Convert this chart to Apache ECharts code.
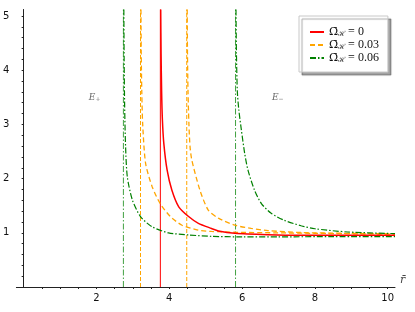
<!DOCTYPE html>
<html><head><meta charset="utf-8">
<script src="https://cdn.jsdelivr.net/npm/echarts@6/dist/echarts.min.js"></script>
<style>html,body{margin:0;padding:0;background:#fff}#c{width:415px;height:312px}</style>
</head><body><div id="c"></div>
<script>
// Tick values and labels
const xTickValues = [0.5,1,1.5,2,2.5,3,3.5,4,4.5,5,5.5,6,6.5,7,7.5,8,8.5,9,9.5,10];
const xLabelValues = [2,4,6,8,10];
const yTickValues = [0.2,0.4,0.6,0.8,1,1.2,1.4,1.6,1.8,2,2.2,2.4,2.6,2.8,3,3.2,3.4,3.6,3.8,4,4.2,4.4,4.6,4.8,5];
const yLabelValues = [1,2,3,4,5];

// Series names (legend)
const seriesNames = ['0', '0.03', '0.06'];

// Omega = 0 (red)
const redCurve = [[3.765,5.12],[3.775,4.3],[3.79,3.6],[3.81,3.1],[3.85,2.65],[3.94,2.16],[4.07,1.79],[4.26,1.48],[4.53,1.30],[4.80,1.175],[5.16,1.08],[5.35,1.035],[5.80,0.99],[6.71,0.965],[7.62,0.955],[8.9,0.955],[10.2,0.955]];
const redAsymptotes = [3.755];

// Omega = 0.03 (orange)
const orangeCurveA = [[3.222,5.12],[3.23,4.3],[3.245,3.6],[3.27,3.0],[3.35,2.28],[3.53,1.85],[3.75,1.54],[4.03,1.30],[4.35,1.14],[4.80,1.05],[5.16,1.025],[5.8,1.01],[6.9,1.0],[8.0,0.99],[10.2,0.975]];
const orangeCurveB = [[4.492,5.12],[4.50,4.3],[4.515,3.6],[4.54,3.0],[4.57,2.59],[4.62,2.34],[4.84,1.79],[5.07,1.42],[5.35,1.27],[5.80,1.14],[6.25,1.08],[6.71,1.04],[7.62,1.005],[8.9,0.99],[10.2,0.98]];
const orangeAsymptotes = [3.21, 4.48];

// Omega = 0.06 (green)
const greenCurveA = [[2.752,5.12],[2.76,4.2],[2.775,3.3],[2.80,2.59],[2.847,2.035],[2.984,1.61],[3.21,1.30],[3.53,1.11],[3.98,1.0],[4.53,0.96],[5.16,0.935],[6.0,0.925],[7.0,0.925],[8.5,0.93],[10.2,0.93]];
const greenCurveB = [[5.832,5.12],[5.845,4.3],[5.87,3.6],[5.91,3.27],[5.98,2.90],[6.07,2.47],[6.16,2.16],[6.34,1.79],[6.53,1.54],[6.80,1.36],[7.16,1.23],[7.62,1.13],[8.0,1.075],[8.9,1.015],[10.2,0.985]];
const greenAsymptotes = [2.74, 5.82];

// Region annotations
const annotations = [[1.95,3.5,'+'],[6.98,3.5,'−']];

const Y_TOP = 5.12;
const colors = ['#ff0000', '#ffa500', '#008000'];
const dashOrange = [5,3];
const dashGreen = [6,2,1.5,2];

function vline(xs) {
  const d = [];
  xs.forEach((x, i) => { if (i) d.push([null, null]); d.push([x, 0], [x, Y_TOP]); });
  return d;
}

const curveBase = {type:'line', showSymbol:false, symbol:'none', smooth:0.25, connectNulls:false, silent:true};

const series = [
  Object.assign({}, curveBase, {name: seriesNames[0], data: redCurve,
    lineStyle:{color:colors[0], width:1.5, type:'solid'}, itemStyle:{color:colors[0]}, z:5}),
  Object.assign({}, curveBase, {name: seriesNames[1], data: orangeCurveA,
    lineStyle:{color:colors[1], width:1.3, type:dashOrange}, itemStyle:{color:colors[1]}, z:4}),
  Object.assign({}, curveBase, {name: seriesNames[2], data: greenCurveA,
    lineStyle:{color:colors[2], width:1.2, type:dashGreen}, itemStyle:{color:colors[2]}, z:4}),
  Object.assign({}, curveBase, {name: seriesNames[0], data: vline(redAsymptotes), smooth:false,
    lineStyle:{color:colors[0], width:1, type:'solid'}, itemStyle:{color:colors[0]}, z:3}),
  Object.assign({}, curveBase, {name: seriesNames[1], data: vline(orangeAsymptotes), smooth:false,
    lineStyle:{color:colors[1], width:1, type:[4,2]}, itemStyle:{color:colors[1]}, z:3}),
  Object.assign({}, curveBase, {name: seriesNames[2], data: vline(greenAsymptotes), smooth:false,
    lineStyle:{color:colors[2], width:1, type:dashGreen, opacity:0.75}, itemStyle:{color:colors[2]}, z:3}),
  Object.assign({}, curveBase, {name: seriesNames[1], data: orangeCurveB,
    lineStyle:{color:colors[1], width:1.3, type:dashOrange}, itemStyle:{color:colors[1]}, z:4}),
  Object.assign({}, curveBase, {name: seriesNames[2], data: greenCurveB,
    lineStyle:{color:colors[2], width:1.2, type:dashGreen}, itemStyle:{color:colors[2]}, z:4}),
  {type:'scatter', name:'ann', symbolSize:0, silent:true, data: annotations,
    label:{show:true, position:'inside', formatter: p => '{e|E}{s|' + p.value[2] + '}',
      rich:{e:{fontFamily:'DejaVu Serif', fontStyle:'italic', fontSize:9, color:'#444'},
            s:{fontFamily:'DejaVu Serif', fontSize:6, color:'#444', padding:[5,0,0,0]}}}}
];

const chart = echarts.init(document.getElementById('c'), null, {renderer:'canvas'});
chart.setOption({
  animation:false,
  backgroundColor:'#fff',
  grid:{left:13.2, right:20, top:9.5, bottom:25, containLabel:false},
  xAxis:{type:'value', min:-0.2, max:10.2,
    name:'r\u0304', nameLocation:'end', nameGap:5,
    nameTextStyle:{fontFamily:'DejaVu Serif', fontStyle:'italic', fontSize:11, color:'#444', verticalAlign:'bottom', padding:[0,0,1,0]},
    axisLine:{show:true, onZero:true, lineStyle:{color:'#222', width:1}},
    axisTick:{show:true, customValues:xTickValues, length:2, lineStyle:{color:'#222'}},
    axisLabel:{customValues:xLabelValues, margin:6, fontFamily:'DejaVu Sans', fontSize:10, color:'#111'},
    splitLine:{show:false}},
  yAxis:{type:'value', min:0, max:Y_TOP,
    axisLine:{show:true, onZero:true, lineStyle:{color:'#222', width:1}},
    axisTick:{show:true, customValues:yTickValues, length:2, lineStyle:{color:'#222'}},
    axisLabel:{customValues:yLabelValues, margin:7, fontFamily:'DejaVu Sans', fontSize:10, color:'#111'},
    splitLine:{show:false}},
  legend:{data:seriesNames, orient:'vertical', left:299, top:16,
    padding:[10,9,8,10], itemGap:1, itemWidth:14, itemHeight:10,
    itemStyle:{opacity:0},
    backgroundColor:'#fff', borderColor:'#c8c8c8', borderWidth:1, borderRadius:0,
    shadowColor:'rgba(0,0,0,0.35)', shadowOffsetX:3, shadowOffsetY:3, shadowBlur:1,
    selectedMode:false,
    formatter: n => '{o|\u03A9\u0304}{s|\u210B}{t| = ' + n + '}',
    textStyle:{rich:{
      o:{fontFamily:'DejaVu Serif', fontSize:11, color:'#111', lineHeight:14},
      s:{fontFamily:'DejaVu Serif', fontSize:7, color:'#111', padding:[5,0,0,0]},
      t:{fontFamily:'Liberation Serif', fontSize:12, color:'#111', lineHeight:14}}}},
  series: series
});
</script></body></html>
